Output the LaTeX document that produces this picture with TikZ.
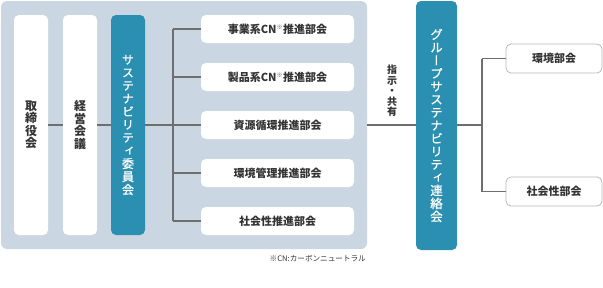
\documentclass[tikz,border=0pt]{standalone}
\usepackage{fontspec}
\setmainfont{Noto Sans CJK JP}
\newfontfamily\jp{Noto Sans CJK JP}
\newfontfamily\vjp[RawFeature=+vert]{Noto Sans CJK JP}
\newfontfamily\vjpm[RawFeature=+vert, FakeBold=0.8]{Noto Sans CJK JP}
\definecolor{panelc}{HTML}{CAD7E2}
\definecolor{tealc}{HTML}{2A8FB0}
\definecolor{linec}{HTML}{6E6E6E}
\definecolor{textc}{HTML}{333333}
\definecolor{borderc}{HTML}{B8B8B8}
\tikzset{
  whitebar/.style={fill=white, rounded corners=5pt, minimum width=34pt, minimum height=220pt, inner sep=0pt, text=textc, align=center, font=\vjp\bfseries\fontsize{12}{12.5}\selectfont},
  tealbar/.style={fill=tealc, rounded corners=5pt, inner sep=0pt, text=white, align=center},
  subbox/.style={fill=white, rounded corners=5pt, minimum width=153pt, minimum height=28pt, inner sep=0pt, text=textc, font=\jp\bfseries\fontsize{11}{13}\selectfont},
  outbox/.style={fill=white, draw=borderc, line width=0.8pt, rounded corners=5pt, minimum width=96pt, minimum height=29pt, inner sep=0pt, text=textc, font=\jp\bfseries\fontsize{11}{13}\selectfont},
  conn/.style={draw=linec, line width=1.1pt},
}
\newcommand{\cnmark}{\textsuperscript{\fontsize{6}{6}\selectfont ※}}
\begin{document}
\begin{tikzpicture}[x=1pt,y=-1pt]
\useasboundingbox (0,0) rectangle (603,287);
\node[fill=panelc, rounded corners=6pt, minimum width=366pt, minimum height=248pt, inner sep=0pt] (panel) at (184,125) {};
\node[whitebar] (tori) at (31,125) {取\\締\\役\\会};
\node[whitebar] (keiei) at (80,125) {経\\営\\会\\議};
\node[tealbar, minimum width=34pt, minimum height=220pt, font=\vjpm\fontsize{12}{13}\selectfont] (susu) at (128,125) {サ\\ス\\テ\\ナ\\ビ\\リ\\テ\\ィ\\委\\員\\会};
\node[subbox] (s1) at (277.5,29) {事業系CN\cnmark 推進部会};
\node[subbox] (s2) at (277.5,77) {製品系CN\cnmark 推進部会};
\node[subbox] (s3) at (277.5,125) {資源循環推進部会};
\node[subbox] (s4) at (277.5,173) {環境管理推進部会};
\node[subbox] (s5) at (277.5,221) {社会性推進部会};
\node[anchor=east, text=textc, font=\jp\fontsize{7.6}{8}\selectfont, inner sep=0pt] (note) at (366,259) {※CN:カーボンニュートラル};
\node[tealbar, minimum width=41pt, minimum height=249pt, font=\vjpm\fontsize{12.5}{13}\selectfont] (group) at (436.5,125.5) {グ\\ル\\ー\\プ\\サ\\ス\\テ\\ナ\\ビ\\リ\\テ\\ィ\\連\\絡\\会};
\node[outbox] (kankyo) at (554,58.5) {環境部会};
\node[outbox] (shakai) at (554,191.5) {社会性部会};
\node[text=textc, align=center, inner sep=0pt, font=\vjp\bfseries\fontsize{10}{10.5}\selectfont] (shiji) at (392,91) {指\\示\\・\\共\\有};
\coordinate (bus) at (173,125);
\coordinate (bustop) at (173,29);
\coordinate (busbot) at (173,221);
\coordinate (rbus) at (482,125);
\coordinate (rtop) at (482,58.5);
\coordinate (rbot) at (482,191.5);
\draw[conn] (tori.east |- 0,125) -- (keiei.west |- 0,125);
\draw[conn] (keiei.east |- 0,125) -- (susu.west |- 0,125);
\draw[conn] (susu.east |- 0,125) -- (bus);
\draw[conn] (bustop) -- (busbot);
\foreach \s in {s1,s2,s3,s4,s5} { \draw[conn] (bus |- \s.west) -- (\s.west); }
\draw[conn] (panel.east) -- (group.west |- panel.east);
\draw[conn] (group.east |- rbus) -- (rbus);
\draw[conn] (rtop) -- (rbot);
\draw[conn] (rtop) -- (kankyo.west);
\draw[conn] (rbot) -- (shakai.west);
\end{tikzpicture}
\end{document}
